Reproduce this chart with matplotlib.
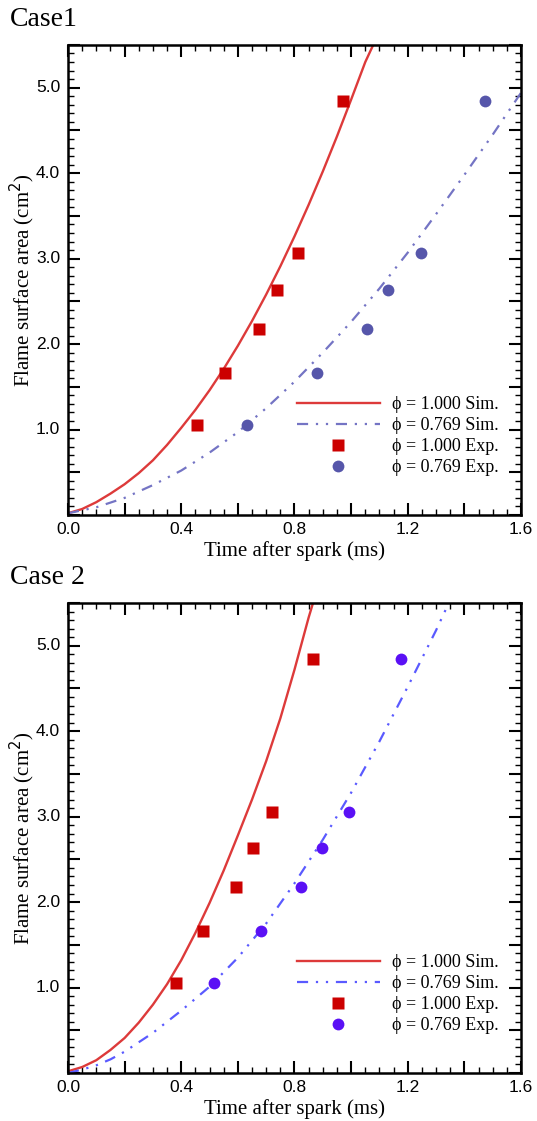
import numpy as np
import matplotlib
matplotlib.use('Agg')
import matplotlib.pyplot as plt
from matplotlib.ticker import MultipleLocator

# area levels measured in experiment (cm^2)
exp_area = [1.05, 1.66, 2.18, 2.63, 3.06, 4.84]

# Case 1
c1_exp_t_100 = [0.455, 0.556, 0.676, 0.739, 0.814, 0.971]
c1_exp_t_769 = [0.632, 0.880, 1.056, 1.130, 1.246, 1.473]
c1_sim_t_100 = [0.0, 0.05, 0.1, 0.15, 0.2, 0.25, 0.3, 0.35, 0.4, 0.45, 0.5, 0.55,
                0.6, 0.65, 0.7, 0.75, 0.8, 0.85, 0.9, 0.95, 1.0, 1.05, 1.085]
c1_sim_a_100 = [0.02, 0.07, 0.15, 0.25, 0.36, 0.49, 0.64, 0.82, 1.02, 1.23, 1.46, 1.71,
                1.98, 2.27, 2.58, 2.91, 3.26, 3.63, 4.02, 4.43, 4.86, 5.30, 5.55]
c1_sim_t_769 = [0.0, 0.1, 0.2, 0.3, 0.4, 0.5, 0.6, 0.7, 0.8, 0.9, 1.0, 1.1, 1.2, 1.3, 1.4, 1.5, 1.6]
c1_sim_a_769 = [0.02, 0.09, 0.2, 0.35, 0.52, 0.73, 0.97, 1.25, 1.56, 1.9, 2.26, 2.65,
                3.07, 3.52, 3.98, 4.45, 4.94]

# Case 2
c2_exp_t_100 = [0.383, 0.478, 0.595, 0.655, 0.722, 0.864]
c2_exp_t_769 = [0.517, 0.682, 0.822, 0.896, 0.993, 1.176]
c2_sim_t_100 = [0.0, 0.05, 0.1, 0.15, 0.2, 0.25, 0.3, 0.35, 0.4, 0.45, 0.5, 0.55,
                0.6, 0.65, 0.7, 0.75, 0.8, 0.85, 0.88]
c2_sim_a_100 = [0.02, 0.07, 0.15, 0.27, 0.41, 0.59, 0.80, 1.04, 1.32, 1.64, 1.99, 2.37,
                2.78, 3.20, 3.65, 4.15, 4.72, 5.33, 5.66]
c2_sim_t_769 = [0.0, 0.05, 0.1, 0.15, 0.2, 0.3, 0.4, 0.5, 0.6, 0.7, 0.8, 0.9, 1.0,
                1.1, 1.2, 1.3, 1.345]
c2_sim_a_769 = [0.0, 0.04, 0.09, 0.16, 0.25, 0.47, 0.73, 1.01, 1.35, 1.75, 2.22, 2.73,
                3.28, 3.88, 4.52, 5.18, 5.5]

labels = ['\u03d5 = 1.000 Sim.', '\u03d5 = 0.769 Sim.', '\u03d5 = 1.000 Exp.', '\u03d5 = 0.769 Exp.']
xticks = [0.0, 0.4, 0.8, 1.2, 1.6]
yticks = [1.0, 2.0, 3.0, 4.0, 5.0]

serif = ['Liberation Serif', 'DejaVu Serif']
sans = ['Liberation Sans', 'DejaVu Sans']
dashdotdot = (0, (5, 3.5, 1, 3.5, 1, 3.5))

fig = plt.figure(figsize=(5.37, 11.21), dpi=100)
ax1 = fig.add_axes([0.1266, 0.5406, 0.8436, 0.4193])
ax2 = fig.add_axes([0.1266, 0.0428, 0.8436, 0.4193])


def draw(ax, st100, sa100, st769, sa769, et100, et769, blue_line, blue_dot):
    ax.plot(st100, sa100, color='#dd3a3a', lw=1.7, label=labels[0])
    ax.plot(st769, sa769, color=blue_line, lw=1.6, ls=dashdotdot, label=labels[1])
    ax.plot(et100, exp_area, 's', color='#cc0000', ms=8, mec='none', label=labels[2])
    ax.plot(et769, exp_area, 'o', color=blue_dot, ms=8.5, mec='none', label=labels[3])
    ax.set_xlim(0, 1.6)
    ax.set_ylim(0, 5.5)
    ax.xaxis.set_major_locator(MultipleLocator(0.2))
    ax.xaxis.set_minor_locator(MultipleLocator(0.05))
    ax.yaxis.set_major_locator(MultipleLocator(0.5))
    ax.yaxis.set_minor_locator(MultipleLocator(0.1))
    ax.tick_params(which='both', direction='in', top=True, right=True,
                   labelbottom=False, labelleft=False)
    ax.tick_params(which='major', length=8.5, width=1.5)
    ax.tick_params(which='minor', length=4.3, width=1.0)
    for s in ax.spines.values():
        s.set_linewidth(1.8)
    # numbers only at every 0.4 and 1.0
    for t in xticks:
        ax.text(t, -0.08, '%.1f' % t, ha='center', va='top', fontsize=12.5, family=sans)
    for t in yticks:
        ax.text(-0.028, t, '%.1f' % t, ha='right', va='center', fontsize=12.5, family=sans)
    ax.set_xlabel('Time after spark (ms)', fontsize=15, family=serif, labelpad=19)
    ax.set_ylabel('Flame surface area (cm$^2$)', fontsize=15, family=serif, labelpad=22)
    ax.legend(loc='lower right', bbox_to_anchor=(0.975, 0.06), frameon=False,
              prop={'family': serif, 'size': 13}, handlelength=4.6,
              handletextpad=0.7, labelspacing=0.22, borderaxespad=0.2)


draw(ax1, c1_sim_t_100, c1_sim_a_100, c1_sim_t_769, c1_sim_a_769,
     c1_exp_t_100, c1_exp_t_769, '#7474c4', '#5656aa')
draw(ax2, c2_sim_t_100, c2_sim_a_100, c2_sim_t_769, c2_sim_a_769,
     c2_exp_t_100, c2_exp_t_769, '#5a5aff', '#5a10f5')

fig.text(0.018, 0.983, 'Case1', fontsize=20, family=serif, va='center')
fig.text(0.018, 0.4845, 'Case 2', fontsize=20, family=serif, va='center')

fig.savefig('out.png', dpi=100)
